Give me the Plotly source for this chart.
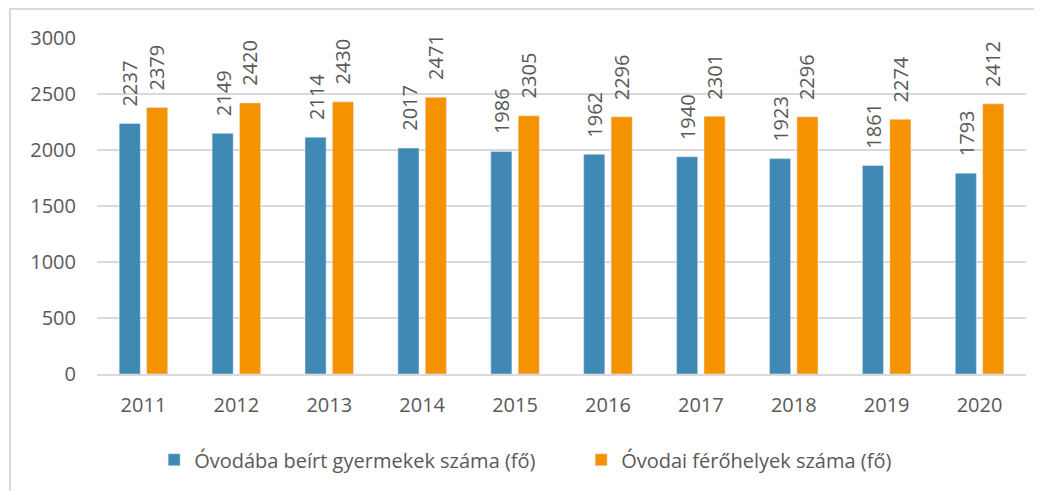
import plotly.graph_objects as go

years = ["2011", "2012", "2013", "2014", "2015", "2016", "2017", "2018", "2019", "2020"]
enrolled = [2237, 2149, 2114, 2017, 1986, 1962, 1940, 1923, 1861, 1793]
capacity = [2379, 2420, 2430, 2471, 2305, 2296, 2301, 2296, 2274, 2412]
name_enrolled = "Óvodába beírt gyermekek száma (fő)"
name_capacity = "Óvodai férőhelyek száma (fő)"

BLUE = "#4189B5"
ORANGE = "#F59200"
TXT = "#595959"
FONT = "Open Sans"
FS = 20

fig = go.Figure()
fig.add_trace(go.Bar(x=years, y=enrolled, name=name_enrolled, marker_color=BLUE))
fig.add_trace(go.Bar(x=years, y=capacity, name=name_capacity, marker_color=ORANGE))

ann = []
for i, v in enumerate(enrolled):
    ann.append(dict(x=i, y=v, text=str(v), textangle=-90, showarrow=False,
                    xanchor="center", yanchor="bottom", xshift=-13.5, yshift=15,
                    font=dict(family=FONT, size=FS, color=TXT)))
for i, v in enumerate(capacity):
    ann.append(dict(x=i, y=v, text=str(v), textangle=-90, showarrow=False,
                    xanchor="center", yanchor="bottom", xshift=13.5, yshift=15,
                    font=dict(family=FONT, size=FS, color=TXT)))

fig.update_layout(
    width=1034, height=483,
    margin=dict(l=89, r=16, t=30, b=117, autoexpand=False),
    paper_bgcolor="white", plot_bgcolor="white",
    barmode="group", bargap=0.41, bargroupgap=0.23,
    font=dict(family=FONT, size=FS, color=TXT),
    annotations=ann,
    showlegend=True,
    legend=dict(orientation="h", x=0.0615, xanchor="left", y=-0.197, yanchor="top",
                font=dict(family=FONT, size=FS, color=TXT), itemwidth=30,
                entrywidth=382, entrywidthmode="pixels"),
    shapes=[dict(type="rect", xref="paper", yref="paper", x0=-0.0937, x1=1.05,
                 y0=-0.4, y1=1.086, line=dict(color="#D9D9D9", width=2))],
)
fig.update_xaxes(type="category", range=[-0.5, len(years) - 0.5], showline=True,
                 linecolor="#D9D9D9", linewidth=2, ticks="",
                 tickfont=dict(family=FONT, size=FS, color=TXT), ticklabelstandoff=12)
fig.update_yaxes(range=[0, 3000], dtick=500, showgrid=True, gridcolor="#D9D9D9", gridwidth=2,
                 zeroline=False, ticks="", tickfont=dict(family=FONT, size=FS, color=TXT),
                 ticklabelstandoff=20)

fig.write_html("out.html")
